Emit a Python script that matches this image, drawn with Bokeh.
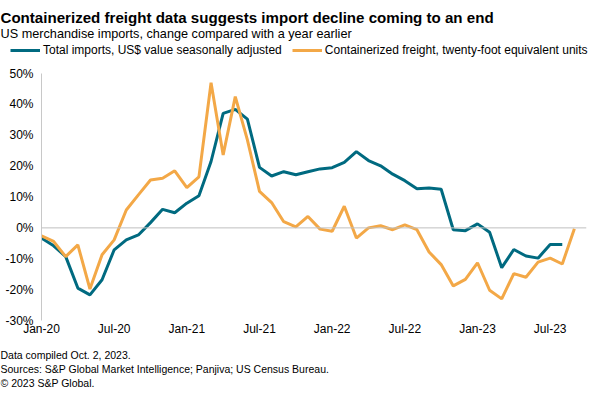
from bokeh.plotting import figure
from bokeh.layouts import column
from bokeh.models import Legend, LegendItem, Label, Span, FixedTicker, PrintfTickFormatter, Range1d
from bokeh.embed import file_html
from bokeh.resources import INLINE

# month index 0 = Jan-20
tick_pos = [0, 6, 12, 18, 24, 30, 36, 42]
tick_labels = ["Jan-20", "Jul-20", "Jan-21", "Jul-21", "Jan-22", "Jul-22", "Jan-23", "Jul-23"]
y_ticks = [-30, -20, -10, 0, 10, 20, 30, 40, 50]

# Total imports, US$ value seasonally adjusted, % y/y (Jan-20 .. Aug-23)
imports = [-3.3, -5.8, -9.3, -19.5, -21.7, -16.8, -7.1, -3.9, -2.3, 1.7, 6.0, 4.9,
           8.0, 10.4, 21.5, 37.1, 38.4, 35.2, 19.6, 16.8, 18.2, 17.2, 18.2, 19.1,
           19.5, 21.2, 24.7, 21.8, 20.1, 17.4, 15.3, 12.7, 12.9, 12.5, -0.6, -0.9,
           1.3, -1.4, -12.9, -7.0, -9.1, -9.8, -5.4, -5.4]
# Containerized freight, TEU, % y/y (Jan-20 .. Sep-23)
freight = [-2.6, -4.4, -9.3, -5.5, -19.8, -8.7, -3.9, 5.8, 10.7, 15.5, 16.1, 18.5,
           13.0, 16.5, 47.0, 23.6, 42.5, 28.5, 11.8, 8.2, 2.0, 0.3, 3.7, -0.4,
           -1.1, 7.0, -3.3, 0.0, 0.7, -0.6, 1.0, -0.6, -7.8, -11.9, -18.8, -16.7,
           -11.3, -20.2, -23.0, -14.8, -16.0, -11.1, -9.8, -11.7, -0.3]

series_names = ["Total imports, US$ value seasonally adjusted",
                "Containerized freight, twenty-foot equivalent units"]
title_text = "Containerized freight data suggests import decline coming to an end"
subtitle_text = "US merchandise imports, change compared with a year earlier"
footer_lines = ["Data compiled Oct. 2, 2023.",
                "Sources: S&P Global Market Intelligence; Panjiva; US Census Bureau.",
                "\u00a9 2023 S&P Global."]

x_imp = list(range(len(imports)))
x_fr = list(range(len(freight)))

TEAL = "#006a80"
ORANGE = "#f3a847"
FONT = "Liberation Sans"
W = 596


def bare(fig):
    fig.outline_line_color = None
    fig.xgrid.visible = False
    fig.ygrid.visible = False
    fig.min_border_left = 0
    fig.min_border_right = 0
    fig.min_border_top = 0
    fig.min_border_bottom = 0
    fig.frame_align = False
    return fig


# ---------- header: title, subtitle, legend ----------
HH = 57
head = bare(figure(width=W, height=HH, output_backend="svg", toolbar_location=None,
                   x_range=Range1d(0, W), y_range=Range1d(HH, 0),
                   x_axis_type=None, y_axis_type=None))
head.extra_y_ranges = {"offscreen": Range1d(1000, 1100)}
head.add_layout(Label(x=0, y=17, text=title_text, text_font=FONT, text_font_size="15.1px",
                      text_font_style="bold", text_color="#000000", text_baseline="alphabetic"))
head.add_layout(Label(x=0, y=33, text=subtitle_text, text_font=FONT, text_font_size="12.7px",
                      text_color="#000000", text_baseline="alphabetic"))
# legend samples use the real series, drawn on an off-screen range of the header
h1 = head.line(x_imp, imports, line_color=TEAL, line_width=3, y_range_name="offscreen")
h2 = head.line(x_fr, freight, line_color=ORANGE, line_width=3, y_range_name="offscreen")
legend = Legend(items=[LegendItem(label=series_names[0], renderers=[h1]),
                       LegendItem(label=series_names[1], renderers=[h2])],
                orientation="horizontal", location=(10, 0),
                label_text_font=FONT, label_text_font_size="12px", label_text_color="#000000",
                glyph_width=30, glyph_height=14, label_height=14, label_standoff=3, spacing=10,
                padding=0, margin=0, border_line_color=None, background_fill_alpha=0)
head.add_layout(legend, "center")

# ---------- main chart ----------
p = bare(figure(width=W, height=283, output_backend="svg", toolbar_location=None,
                x_range=Range1d(0, 45.0), y_range=Range1d(-30, 50)))
p.min_border_left = 41
p.min_border_right = 10
p.min_border_top = 16
p.min_border_bottom = 20

p.add_layout(Span(location=0, dimension="width", line_color="#bfbfbf", line_width=1))
p.line(x_imp, imports, line_color=TEAL, line_width=3)
p.line(x_fr, freight, line_color=ORANGE, line_width=3)

p.yaxis.ticker = FixedTicker(ticks=y_ticks)
p.yaxis.formatter = PrintfTickFormatter(format="%d%%")
p.yaxis.axis_line_color = "#c8c8c8"
p.yaxis.major_tick_line_color = None
p.yaxis.minor_tick_line_color = None
p.yaxis.major_tick_out = 0
p.yaxis.major_tick_in = 0
p.yaxis.major_label_text_font = FONT
p.yaxis.major_label_text_font_size = "12px"
p.yaxis.major_label_text_color = "#000000"
p.yaxis.major_label_standoff = 8

p.xaxis.ticker = FixedTicker(ticks=tick_pos)
p.xaxis.major_label_overrides = dict(zip(tick_pos, tick_labels))
p.xaxis.axis_line_color = None
p.xaxis.major_tick_line_color = None
p.xaxis.minor_tick_line_color = None
p.xaxis.major_tick_out = 0
p.xaxis.major_tick_in = 0
p.xaxis.major_label_text_font = FONT
p.xaxis.major_label_text_font_size = "12px"
p.xaxis.major_label_text_color = "#000000"
p.xaxis.major_label_standoff = 1

# ---------- footer ----------
FH = 48
foot = bare(figure(width=W, height=FH, output_backend="svg", toolbar_location=None,
                   x_range=Range1d(0, W), y_range=Range1d(FH, 0),
                   x_axis_type=None, y_axis_type=None))
for i, line in enumerate(footer_lines):
    foot.add_layout(Label(x=0, y=14 + 14.3 * i, text=line, text_font=FONT, text_font_size="10.5px",
                          text_color="#000000", text_baseline="alphabetic"))

layout = column(head, p, foot, spacing=0)
open("out.html", "w").write(file_html(layout, INLINE))
